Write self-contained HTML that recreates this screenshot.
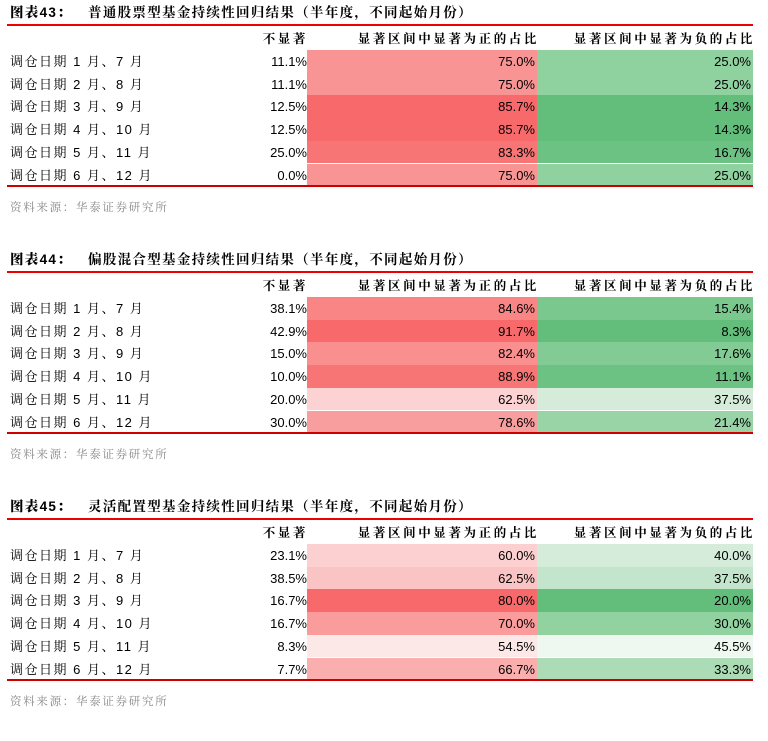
<!DOCTYPE html><html><head><meta charset="utf-8"><style>
body{margin:0;width:768px;height:708px;background:#fff;font-family:"Liberation Sans","SimSun","Noto Serif CJK SC","Noto Sans CJK SC",sans-serif;color:#000;position:relative;overflow:hidden}
.s{position:absolute;left:0;width:768px;height:247px}
.t{position:absolute;left:10px;top:4px;font-size:13.5px;line-height:18px;font-weight:bold;white-space:nowrap;letter-spacing:1.3px}
.t b{margin-right:16px}
.l{position:absolute;left:7px;width:746px;top:24px;height:2px;background:#e00}
.hd{position:absolute;top:30px;height:18px;line-height:18px;font-size:12.5px;font-weight:bold;text-align:right;letter-spacing:2.6px;white-space:nowrap}
.r{position:absolute;left:7px;width:746px;height:22.7px;font-size:13px}
.r div{position:absolute;top:0;height:100%;line-height:23px;white-space:nowrap}
.c0{left:3px;letter-spacing:1.5px}
.c1{left:230px;width:70px;text-align:right}
.c2{left:300px;width:230px;text-align:right}
.c2 span,.c3 span{margin-right:2px}
.c3{left:530px;width:216px;text-align:right}
.b{position:absolute;left:7px;width:746px;top:185px;height:2px;background:#c00}
.src{position:absolute;left:10px;top:199px;font-size:11.5px;color:#888;letter-spacing:1.7px}
</style></head><body>

<div class="s" style="top:0px">
<div class="t"><b>图表43：</b>普通股票型基金持续性回归结果（半年度，不同起始月份）</div>
<div class="l"></div>
<div class="hd" style="left:230px;width:78px">不显著</div>
<div class="hd" style="left:307px;width:232px">显著区间中显著为正的占比</div>
<div class="hd" style="left:537px;width:218px">显著区间中显著为负的占比</div>
<div class="r" style="top:50px"><div class="c0">调仓日期 1 月、7 月</div><div class="c1">11.1%</div><div class="c2" style="background:#f99494"><span>75.0%</span></div><div class="c3" style="background:#8fd19f"><span>25.0%</span></div></div>
<div class="r" style="top:72.7px"><div class="c0">调仓日期 2 月、8 月</div><div class="c1">11.1%</div><div class="c2" style="background:#f99494"><span>75.0%</span></div><div class="c3" style="background:#8fd19f"><span>25.0%</span></div></div>
<div class="r" style="top:95.4px"><div class="c0">调仓日期 3 月、9 月</div><div class="c1">12.5%</div><div class="c2" style="background:#f8696b"><span>85.7%</span></div><div class="c3" style="background:#63be7b"><span>14.3%</span></div></div>
<div class="r" style="top:118.1px"><div class="c0">调仓日期 4 月、10 月</div><div class="c1">12.5%</div><div class="c2" style="background:#f8696b"><span>85.7%</span></div><div class="c3" style="background:#63be7b"><span>14.3%</span></div></div>
<div class="r" style="top:140.8px"><div class="c0">调仓日期 5 月、11 月</div><div class="c1">25.0%</div><div class="c2" style="background:#f87575"><span>83.3%</span></div><div class="c3" style="background:#6cc283"><span>16.7%</span></div></div>
<div class="r" style="top:163.5px"><div class="c0">调仓日期 6 月、12 月</div><div class="c1">0.0%</div><div class="c2" style="background:#f99494"><span>75.0%</span></div><div class="c3" style="background:#8fd19f"><span>25.0%</span></div></div>
<div class="b"></div>
<div class="src">资料来源：华泰证券研究所</div>
</div>

<div class="s" style="top:247px">
<div class="t"><b>图表44：</b>偏股混合型基金持续性回归结果（半年度，不同起始月份）</div>
<div class="l"></div>
<div class="hd" style="left:230px;width:78px">不显著</div>
<div class="hd" style="left:307px;width:232px">显著区间中显著为正的占比</div>
<div class="hd" style="left:537px;width:218px">显著区间中显著为负的占比</div>
<div class="r" style="top:50px"><div class="c0">调仓日期 1 月、7 月</div><div class="c1">38.1%</div><div class="c2" style="background:#f98585"><span>84.6%</span></div><div class="c3" style="background:#7ac88d"><span>15.4%</span></div></div>
<div class="r" style="top:72.7px"><div class="c0">调仓日期 2 月、8 月</div><div class="c1">42.9%</div><div class="c2" style="background:#f8696b"><span>91.7%</span></div><div class="c3" style="background:#63be7b"><span>8.3%</span></div></div>
<div class="r" style="top:95.4px"><div class="c0">调仓日期 3 月、9 月</div><div class="c1">15.0%</div><div class="c2" style="background:#f98f8f"><span>82.4%</span></div><div class="c3" style="background:#83cb94"><span>17.6%</span></div></div>
<div class="r" style="top:118.1px"><div class="c0">调仓日期 4 月、10 月</div><div class="c1">10.0%</div><div class="c2" style="background:#f87575"><span>88.9%</span></div><div class="c3" style="background:#6cc283"><span>11.1%</span></div></div>
<div class="r" style="top:140.8px"><div class="c0">调仓日期 5 月、11 月</div><div class="c1">20.0%</div><div class="c2" style="background:#fcd2d2"><span>62.5%</span></div><div class="c3" style="background:#d4ecd9"><span>37.5%</span></div></div>
<div class="r" style="top:163.5px"><div class="c0">调仓日期 6 月、12 月</div><div class="c1">30.0%</div><div class="c2" style="background:#f99e9e"><span>78.6%</span></div><div class="c3" style="background:#98d4a6"><span>21.4%</span></div></div>
<div class="b"></div>
<div class="src">资料来源：华泰证券研究所</div>
</div>

<div class="s" style="top:494px">
<div class="t"><b>图表45：</b>灵活配置型基金持续性回归结果（半年度，不同起始月份）</div>
<div class="l"></div>
<div class="hd" style="left:230px;width:78px">不显著</div>
<div class="hd" style="left:307px;width:232px">显著区间中显著为正的占比</div>
<div class="hd" style="left:537px;width:218px">显著区间中显著为负的占比</div>
<div class="r" style="top:50px"><div class="c0">调仓日期 1 月、7 月</div><div class="c1">23.1%</div><div class="c2" style="background:#fcd0d0"><span>60.0%</span></div><div class="c3" style="background:#d5ecda"><span>40.0%</span></div></div>
<div class="r" style="top:72.7px"><div class="c0">调仓日期 2 月、8 月</div><div class="c1">38.5%</div><div class="c2" style="background:#fbc4c4"><span>62.5%</span></div><div class="c3" style="background:#c3e5cb"><span>37.5%</span></div></div>
<div class="r" style="top:95.4px"><div class="c0">调仓日期 3 月、9 月</div><div class="c1">16.7%</div><div class="c2" style="background:#f8696b"><span>80.0%</span></div><div class="c3" style="background:#63be7b"><span>20.0%</span></div></div>
<div class="r" style="top:118.1px"><div class="c0">调仓日期 4 月、10 月</div><div class="c1">16.7%</div><div class="c2" style="background:#fa9c9c"><span>70.0%</span></div><div class="c3" style="background:#92d2a1"><span>30.0%</span></div></div>
<div class="r" style="top:140.8px"><div class="c0">调仓日期 5 月、11 月</div><div class="c1">8.3%</div><div class="c2" style="background:#fde8e8"><span>54.5%</span></div><div class="c3" style="background:#eef8f0"><span>45.5%</span></div></div>
<div class="r" style="top:163.5px"><div class="c0">调仓日期 6 月、12 月</div><div class="c1">7.7%</div><div class="c2" style="background:#fbaeae"><span>66.7%</span></div><div class="c3" style="background:#abdcb6"><span>33.3%</span></div></div>
<div class="b"></div>
<div class="src">资料来源：华泰证券研究所</div>
</div>

</body></html>
